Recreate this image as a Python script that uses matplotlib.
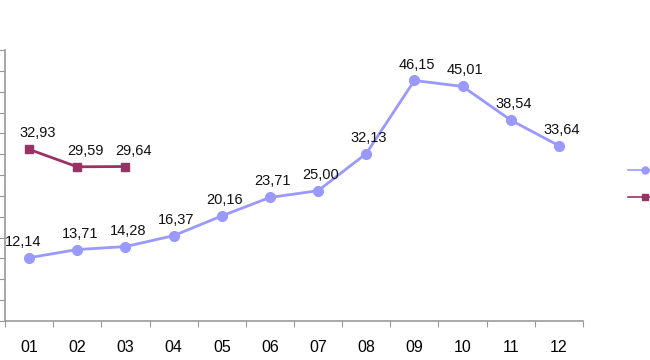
import matplotlib
matplotlib.use("Agg")
import matplotlib.pyplot as plt
from matplotlib.lines import Line2D

plt.rcParams['font.family'] = ['Liberation Sans', 'DejaVu Sans']

months = ["01", "02", "03", "04", "05", "06", "07", "08", "09", "10", "11", "12"]
series_a = [12.14, 13.71, 14.28, 16.37, 20.16, 23.71, 25.00, 32.13, 46.15, 45.01, 38.54, 33.64]
series_b = [32.93, 29.59, 29.64]

blue = "#9999FF"
plum = "#993366"

fig = plt.figure(figsize=(6.5, 3.6), dpi=100)
ax = fig.add_axes([5/650, 1-321/360, 578/650, 271/360])

x_a = list(range(len(series_a)))
x_b = list(range(len(series_b)))
ax.plot(x_a, series_a, color=blue, lw=2, marker='o', ms=7, mec=blue, mfc=blue, zorder=3)
ax.plot(x_b, series_b, color=plum, lw=2, marker='s', ms=6, mec=plum, mfc=plum, zorder=3)

def fmt(v):
    return f"{v:.2f}".replace('.', ',')

for i, v in enumerate(series_a):
    dx = -4 if i == 0 else 2
    ax.annotate(fmt(v), (i, v), xytext=(dx, 11.5), textcoords='offset points',
                ha='center', va='center', fontsize=10.5, color='#111111')
for i, v in enumerate(series_b):
    ax.annotate(fmt(v), (i, v), xytext=(6, 11.5), textcoords='offset points',
                ha='center', va='center', fontsize=10.5, color='#111111')

ax.set_xlim(-0.5, 11.5)
ax.set_ylim(0, 52)
ax.set_yticks(range(0, 53, 4))
ax.set_yticklabels([])
ax.set_xticks([i - 0.5 for i in range(13)], minor=False)
ax.set_xticklabels([])
ax.set_xticks(x_a, minor=True)
ax.set_xticklabels(months, minor=True, fontsize=11.5)
ax.tick_params(axis='x', which='minor', length=0, pad=14)
ax.tick_params(axis='x', which='major', length=4, direction='out', color='#999999')
ax.tick_params(axis='y', length=4, direction='out', color='#999999')
for s in ['top', 'right']:
    ax.spines[s].set_visible(False)
for s in ['left', 'bottom']:
    ax.spines[s].set_color('#999999')
    ax.spines[s].set_linewidth(1.2)

handles = [Line2D([], [], color=blue, lw=1.2, marker='o', ms=5, mec=blue, mfc=blue),
           Line2D([], [], color=plum, lw=1.2, marker='s', ms=5, mec=plum, mfc=plum)]
fig.legend(handles, ['', ''], loc='center left', bbox_to_anchor=(628/650, 1-184.5/360),
           frameon=False, handlelength=2.4, handletextpad=0, borderpad=0,
           borderaxespad=0, labelspacing=0.95, fontsize=10)

fig.savefig("out.png", dpi=100)
